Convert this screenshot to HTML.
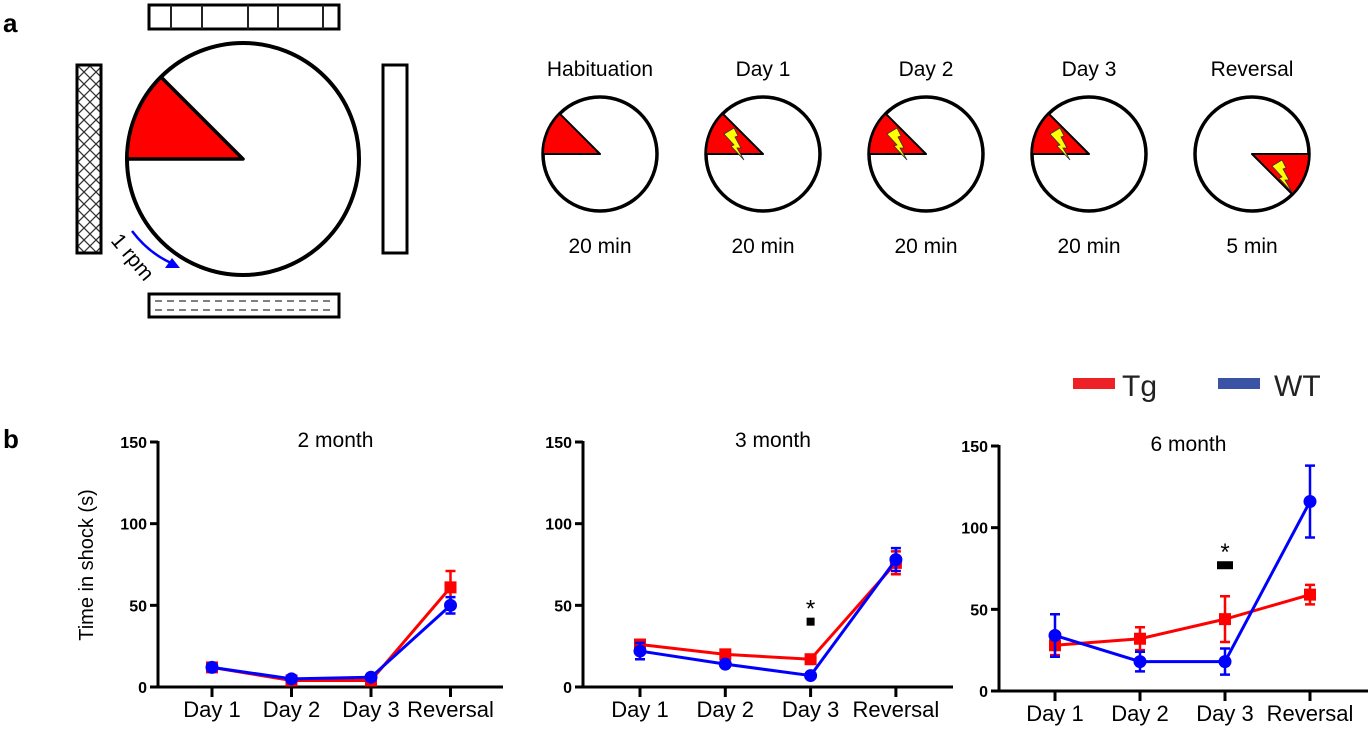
<!DOCTYPE html>
<html><head><meta charset="utf-8"><style>
html,body{margin:0;padding:0;background:#fff;}
svg{display:block;font-family:"Liberation Sans",Arial,sans-serif;}
</style></head><body>
<svg id="fig" width="1371" height="730" viewBox="0 0 1371 730">
<defs>
<pattern id="hatch" width="12" height="12" patternUnits="userSpaceOnUse">
<path d="M0,0 L12,12 M12,0 L0,12" stroke="#333" stroke-width="1.3"/>
</pattern>
</defs>
<text x="3" y="32" font-size="26" font-weight="bold">a</text>
<text x="3" y="448" font-size="26" font-weight="bold">b</text>

<g>
<rect x="149" y="5" width="190" height="24" fill="#fff" stroke="#000" stroke-width="3"/>
<path d="M171,5V29 M202,5V29 M248,5V29 M278,5V29 M323,5V29" stroke="#222" stroke-width="2"/>
<rect x="77" y="65" width="24" height="188" fill="url(#hatch)" stroke="#000" stroke-width="3"/>
<rect x="383" y="65" width="24" height="188" fill="#fff" stroke="#000" stroke-width="3"/>
<rect x="149" y="294" width="190" height="23" fill="#fff" stroke="#000" stroke-width="3"/>
<path d="M155,301H335 M155,310H335" stroke="#333" stroke-width="1.3" stroke-dasharray="7,5"/>
<circle cx="243" cy="159" r="116" fill="#fff" stroke="#000" stroke-width="4"/>
<path d="M243,159 L127,159 A116,116 0 0 1 161,77 Z" fill="#ff0000" stroke="#000" stroke-width="3.5" stroke-linejoin="round"/>
<path d="M132,231 Q150,255 176,265" fill="none" stroke="#0000ff" stroke-width="2.5"/>
<path d="M180,268 L165,268 L172,258 Z" fill="#0000ff"/>
<text x="0" y="0" font-size="21" transform="translate(110,241) rotate(50)">1 rpm</text>
</g>
<g id="pies"></g>

<g>
<rect x="1073" y="378" width="42" height="11" fill="#ee2127"/>
<text x="1122" y="396" font-size="30" fill="#222">Tg</text>
<rect x="1218" y="378" width="42" height="11" fill="#3a53a4"/>
<text x="1274" y="396" font-size="30" fill="#222">WT</text>
</g>
<text transform="translate(93,565) rotate(-90)" text-anchor="middle" font-size="20">Time in shock (s)</text>
<g id="charts"></g>
</svg>
<script>
const NS="http://www.w3.org/2000/svg";
const svg=document.getElementById('fig');
function mk(tag,attrs,parent){const e=document.createElementNS(NS,tag);for(const k in attrs)e.setAttribute(k,attrs[k]);(parent||svg).appendChild(e);return e;}

// Session schematics
const sessionNames=["Habituation","Day 1","Day 2","Day 3","Reversal"];
const sessionDurations=["20 min","20 min","20 min","20 min","5 min"];
const sessionShock=[false,true,true,true,true];
const pg=document.getElementById('pies');
sessionNames.forEach((n,i)=>{
  const cx=600+i*163, cy=154, r=57;
  const g=mk('g',{},pg);
  
  
  const t=mk('text',{x:cx,y:76,'text-anchor':'middle','font-size':21},g);t.textContent=n;
  
  
  mk('circle',{cx:cx,cy:cy,r:r,fill:'#fff',stroke:'#000','stroke-width':3.5},g);
  const a=r*0.7071;
  let d, bx, by;
  if(i<4){d=`M${cx},${cy} L${cx-r},${cy} A${r},${r} 0 0 1 ${cx-a},${cy-a} Z`;bx=cx-39;by=cy-26;}
  else{d=`M${cx},${cy} L${cx+r},${cy} A${r},${r} 0 0 1 ${cx+a},${cy+a} Z`;bx=cx+20;by=cy+6;}
  mk('path',{d:d,fill:'#ff0000',stroke:'#000','stroke-width':2,'stroke-linejoin':'round'},g);
  if(sessionShock[i]){
    mk('path',{d:`M${bx},${by+6} L${bx+10},${by} L${bx+14},${by+8} L${bx+11},${by+9} L${bx+17},${by+20} L${bx+13},${by+20} L${bx+20},${by+32} L${bx+7},${by+18} L${bx+10},${by+17} Z`,fill:'#ffff00',stroke:'#333','stroke-width':0.8},g);
  }
  const u=mk('text',{x:cx,y:253,'text-anchor':'middle','font-size':21},g);u.textContent=sessionDurations[i];
  
  
});

// Chart data
const categories=["Day 1","Day 2","Day 3","Reversal"];
const yTicks=[0,50,100,150];
const panelTitles=["2 month","3 month","6 month"];
const tg2=[12,4,4,61], tg2Err=[2,1,1,10];
const wt2=[12,5,6,50], wt2Err=[2,1,1,5];
const tg3=[26,20,17,76], tg3Err=[2,2,2,7];
const wt3=[22,14,7,78], wt3Err=[5,1,1,7];
const tg6=[28,32,44,59], tg6Err=[6,7,14,6];
const wt6=[34,18,18,116], wt6Err=[13,6,8,22];
const sigValue=[null,40,77];
const panels=[
 {ax:158,y0:687,y150:442,x0:212,dx:79.5,end:503,tg:tg2,tge:tg2Err,wt:wt2,wte:wt2Err,sigBar:false},
 {ax:583,y0:687,y150:442,x0:640,dx:85.3,end:953,tg:tg3,tge:tg3Err,wt:wt3,wte:wt3Err,sigBar:false},
 {ax:999,y0:691,y150:446,x0:1055,dx:85,end:1368,tg:tg6,tge:tg6Err,wt:wt6,wte:wt6Err,sigBar:true}
];
const cg=document.getElementById('charts');
panels.forEach((p,pi)=>{
  const g=mk('g',{},cg);
  
  
  const y=v=>p.y0+(p.y150-p.y0)*v/150;
  const x=i=>p.x0+i*p.dx;
  const tt=mk('text',{x:(p.ax+p.end)/2+5,y:p.y150+5,'text-anchor':'middle','font-size':21},g);tt.textContent=panelTitles[pi];
  
  
  mk('line',{x1:p.ax,y1:p.y150-1,x2:p.ax,y2:p.y0+1.5,stroke:'#000','stroke-width':3},g);
  mk('line',{x1:p.ax-1.5,y1:p.y0,x2:p.end,y2:p.y0,stroke:'#000','stroke-width':3},g);
  yTicks.forEach(v=>{
    mk('line',{x1:p.ax-8,y1:y(v),x2:p.ax,y2:y(v),stroke:'#000','stroke-width':3},g);
    const t=mk('text',{x:p.ax-11,y:y(v)+6,'text-anchor':'end','font-size':16,'font-weight':'bold'},g);t.textContent=v;
    
    
  });
  categories.forEach((c,i)=>{
    mk('line',{x1:x(i),y1:p.y0,x2:x(i),y2:p.y0+10,stroke:'#000','stroke-width':3},g);
    const t=mk('text',{x:x(i),y:p.y0+30,'text-anchor':'middle','font-size':22},g);t.textContent=c;
    
    
  });
  const series=[[p.tg,p.tge,'#ff0000','square','tg'],[p.wt,p.wte,'#0000ff','circle','wt']];
  series.forEach(([vals,errs,col,shape,nm])=>{
    const sg=mk('g',{},g);
    
    
    mk('polyline',{points:vals.map((v,i)=>x(i)+','+y(v)).join(' '),fill:'none',stroke:col,'stroke-width':3},sg);
    vals.forEach((v,i)=>{
      const e=errs[i];
      mk('path',{d:`M${x(i)},${y(v+e)}V${y(v-e)} M${x(i)-5},${y(v+e)}H${x(i)+5} M${x(i)-5},${y(v-e)}H${x(i)+5}`,stroke:col,'stroke-width':2.5,fill:'none'},sg);
      let m;
      if(shape==='square') m=mk('rect',{x:x(i)-6,y:y(v)-6,width:12,height:12,fill:col},sg);
      else m=mk('circle',{cx:x(i),cy:y(v),r:6.5,fill:col},sg);
      
      
    });
  });
  if(sigValue[pi]!==null){
    const sx=x(2), sy=y(sigValue[pi]);
    const w=p.sigBar?16:8;
    const r=mk('rect',{x:sx-w/2,y:sy-4,width:w,height:8,fill:'#000'},g);
    
    
    const s=mk('text',{x:sx,y:sy-5,'text-anchor':'middle','font-size':24},g);s.textContent='*';
    
    
  }
});
</script>
</body></html>
